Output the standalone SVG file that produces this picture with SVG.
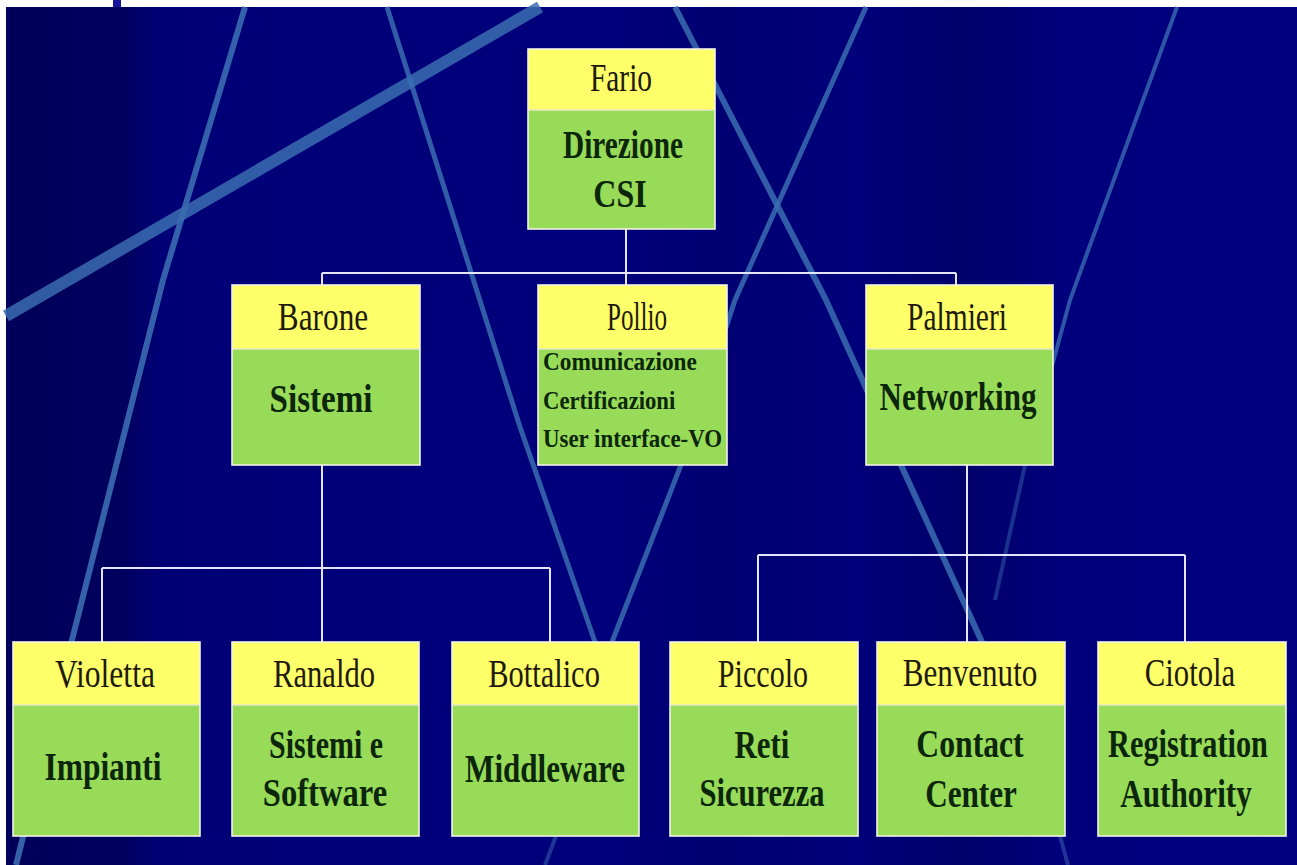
<svg xmlns="http://www.w3.org/2000/svg" width="1297" height="865" viewBox="0 0 1297 865">
<defs>
<linearGradient id="bg" x1="0" y1="0" x2="1" y2="0">
<stop offset="0" stop-color="#00005a"/>
<stop offset="0.09" stop-color="#00005e"/>
<stop offset="0.12" stop-color="#000076"/>
<stop offset="0.45" stop-color="#00007c"/>
<stop offset="0.55" stop-color="#000072"/>
<stop offset="0.66" stop-color="#00007a"/>
<stop offset="0.74" stop-color="#00006a"/>
<stop offset="0.82" stop-color="#00007c"/>
<stop offset="1" stop-color="#000080"/>
</linearGradient>
<style>
.deco{fill:none;stroke:#3a6cb0;stroke-linecap:butt}
.hd{fill:#ffff6a}
.bd{fill:#97db58}
.frame{fill:none;stroke:#f2f2e6;stroke-width:1.6}
.div{stroke:#e6e6c8;stroke-width:1.5}
.name{font-family:"Liberation Serif","Times New Roman",serif;font-size:40px;fill:#1e1a0c;text-anchor:middle}
.dept{font-family:"Liberation Serif","Times New Roman",serif;font-size:40px;font-weight:bold;fill:#0c260c;text-anchor:middle}
.small{font-family:"Liberation Serif","Times New Roman",serif;font-size:26px;font-weight:bold;fill:#0c260c}
.conn{fill:none;stroke:#e4e4ff;stroke-width:2}
</style>
</defs>
<rect x="0" y="0" width="1297" height="865" fill="#ffffff"/>
<rect x="6" y="7" width="1291" height="858" fill="url(#bg)"/>
<rect x="113" y="0" width="8" height="7" fill="#1414a0"/>
<g id="decor">
<path class="deco" d="M245 7 L163 280 L72 640 L16 865" stroke-width="6" opacity="0.9"/>
<path class="deco" d="M540 7 L6 316" stroke-width="12" opacity="0.85"/>
<path class="deco" d="M387 7 L520 427 L595 642" stroke-width="5" opacity="0.85"/>
<path class="deco" d="M866 7 L735 300 L681 465 L612 642" stroke-width="5" opacity="0.85"/>
<path class="deco" d="M556 836 L545 865" stroke-width="4" opacity="0.5"/>
<path class="deco" d="M675 7 L826 300 L901 465 L982 642" stroke-width="6" opacity="0.85"/>
<path class="deco" d="M1060 836 L1068 865" stroke-width="4" opacity="0.5"/>
<path class="deco" d="M1177 7 L1070 300 L1025 465" stroke-width="4" opacity="0.8"/>
<path class="deco" d="M1025 465 L995 600" stroke-width="4" opacity="0.45"/>
</g>
<g id="connectors">
<path class="conn" d="M626 229 V273 M322 273 H956 M322 273 V285 M626 273 V285 M956 273 V285"/>
<path class="conn" d="M322 465 V642 M102 568 H550 M102 568 V642 M550 568 V642"/>
<path class="conn" d="M967 465 V642 M758 555 H1185 M758 555 V642 M1185 555 V642"/>
</g>
<g id="fario">
<rect class="hd" x="528" y="49" width="187" height="61"/>
<rect class="bd" x="528" y="110" width="187" height="119"/>
<line class="div" x1="528" y1="110" x2="715" y2="110"/>
<rect class="frame" x="528" y="49" width="187" height="180"/>
<text class="name" transform="matrix(0.74 0 0 1 621 0)" x="0" y="91" textLength="84" lengthAdjust="spacingAndGlyphs">Fario</text>
<text class="dept" transform="matrix(0.74 0 0 1 623 0)" x="0" y="158" textLength="162" lengthAdjust="spacingAndGlyphs">Direzione</text>
<text class="dept" transform="matrix(0.74 0 0 1 620 0)" x="0" y="207" textLength="72" lengthAdjust="spacingAndGlyphs">CSI</text>
</g>
<g id="barone">
<rect class="hd" x="232" y="285" width="188" height="64"/>
<rect class="bd" x="232" y="349" width="188" height="116"/>
<line class="div" x1="232" y1="349" x2="420" y2="349"/>
<rect class="frame" x="232" y="285" width="188" height="180"/>
<text class="name" transform="matrix(0.74 0 0 1 323 0)" x="0" y="330" textLength="122" lengthAdjust="spacingAndGlyphs">Barone</text>
<text class="dept" transform="matrix(0.74 0 0 1 321 0)" x="0" y="412" textLength="139" lengthAdjust="spacingAndGlyphs">Sistemi</text>
</g>
<g id="pollio">
<rect class="hd" x="538" y="285" width="189" height="64"/>
<rect class="bd" x="538" y="349" width="189" height="116"/>
<line class="div" x1="538" y1="349" x2="727" y2="349"/>
<rect class="frame" x="538" y="285" width="189" height="180"/>
<text class="name" transform="matrix(0.74 0 0 1 637 0)" x="0" y="330" textLength="81" lengthAdjust="spacingAndGlyphs">Pollio</text>
<text class="small" transform="matrix(0.9 0 0 1 543 0)" x="0" y="370" textLength="171" lengthAdjust="spacingAndGlyphs">Comunicazione</text>
<text class="small" transform="matrix(0.9 0 0 1 543 0)" x="0" y="409" textLength="147" lengthAdjust="spacingAndGlyphs">Certificazioni</text>
<text class="small" transform="matrix(0.9 0 0 1 543 0)" x="0" y="447" textLength="199" lengthAdjust="spacingAndGlyphs">User interface-VO</text>
</g>
<g id="palmieri">
<rect class="hd" x="866" y="285" width="187" height="64"/>
<rect class="bd" x="866" y="349" width="187" height="116"/>
<line class="div" x1="866" y1="349" x2="1053" y2="349"/>
<rect class="frame" x="866" y="285" width="187" height="180"/>
<text class="name" transform="matrix(0.74 0 0 1 957 0)" x="0" y="330" textLength="135" lengthAdjust="spacingAndGlyphs">Palmieri</text>
<text class="dept" transform="matrix(0.74 0 0 1 958 0)" x="0" y="410" textLength="212" lengthAdjust="spacingAndGlyphs">Networking</text>
</g>
<g id="violetta">
<rect class="hd" x="13" y="642" width="187" height="63"/>
<rect class="bd" x="13" y="705" width="187" height="131"/>
<line class="div" x1="13" y1="705" x2="200" y2="705"/>
<rect class="frame" x="13" y="642" width="187" height="194"/>
<text class="name" transform="matrix(0.74 0 0 1 105 0)" x="0" y="687" textLength="135" lengthAdjust="spacingAndGlyphs">Violetta</text>
<text class="dept" transform="matrix(0.74 0 0 1 103 0)" x="0" y="780" textLength="158" lengthAdjust="spacingAndGlyphs">Impianti</text>
</g>
<g id="ranaldo">
<rect class="hd" x="232" y="642" width="187" height="63"/>
<rect class="bd" x="232" y="705" width="187" height="131"/>
<line class="div" x1="232" y1="705" x2="419" y2="705"/>
<rect class="frame" x="232" y="642" width="187" height="194"/>
<text class="name" transform="matrix(0.74 0 0 1 324 0)" x="0" y="687" textLength="138" lengthAdjust="spacingAndGlyphs">Ranaldo</text>
<text class="dept" transform="matrix(0.74 0 0 1 326 0)" x="0" y="758" textLength="154" lengthAdjust="spacingAndGlyphs">Sistemi e</text>
<text class="dept" transform="matrix(0.74 0 0 1 325 0)" x="0" y="806" textLength="168" lengthAdjust="spacingAndGlyphs">Software</text>
</g>
<g id="bottalico">
<rect class="hd" x="452" y="642" width="187" height="63"/>
<rect class="bd" x="452" y="705" width="187" height="131"/>
<line class="div" x1="452" y1="705" x2="639" y2="705"/>
<rect class="frame" x="452" y="642" width="187" height="194"/>
<text class="name" transform="matrix(0.74 0 0 1 544 0)" x="0" y="687" textLength="151" lengthAdjust="spacingAndGlyphs">Bottalico</text>
<text class="dept" transform="matrix(0.74 0 0 1 545 0)" x="0" y="782" textLength="216" lengthAdjust="spacingAndGlyphs">Middleware</text>
</g>
<g id="piccolo">
<rect class="hd" x="670" y="642" width="188" height="63"/>
<rect class="bd" x="670" y="705" width="188" height="131"/>
<line class="div" x1="670" y1="705" x2="858" y2="705"/>
<rect class="frame" x="670" y="642" width="188" height="194"/>
<text class="name" transform="matrix(0.74 0 0 1 763 0)" x="0" y="687" textLength="122" lengthAdjust="spacingAndGlyphs">Piccolo</text>
<text class="dept" transform="matrix(0.74 0 0 1 762 0)" x="0" y="758" textLength="74" lengthAdjust="spacingAndGlyphs">Reti</text>
<text class="dept" transform="matrix(0.74 0 0 1 762 0)" x="0" y="806" textLength="169" lengthAdjust="spacingAndGlyphs">Sicurezza</text>
</g>
<g id="benvenuto">
<rect class="hd" x="877" y="642" width="188" height="63"/>
<rect class="bd" x="877" y="705" width="188" height="131"/>
<line class="div" x1="877" y1="705" x2="1065" y2="705"/>
<rect class="frame" x="877" y="642" width="188" height="194"/>
<text class="name" transform="matrix(0.74 0 0 1 970 0)" x="0" y="686" textLength="182" lengthAdjust="spacingAndGlyphs">Benvenuto</text>
<text class="dept" transform="matrix(0.74 0 0 1 970 0)" x="0" y="757" textLength="145" lengthAdjust="spacingAndGlyphs">Contact</text>
<text class="dept" transform="matrix(0.74 0 0 1 971 0)" x="0" y="807" textLength="124" lengthAdjust="spacingAndGlyphs">Center</text>
</g>
<g id="ciotola">
<rect class="hd" x="1098" y="642" width="188" height="63"/>
<rect class="bd" x="1098" y="705" width="188" height="131"/>
<line class="div" x1="1098" y1="705" x2="1286" y2="705"/>
<rect class="frame" x="1098" y="642" width="188" height="194"/>
<text class="name" transform="matrix(0.74 0 0 1 1190 0)" x="0" y="686" textLength="122" lengthAdjust="spacingAndGlyphs">Ciotola</text>
<text class="dept" transform="matrix(0.74 0 0 1 1188 0)" x="0" y="757" textLength="216" lengthAdjust="spacingAndGlyphs">Registration</text>
<text class="dept" transform="matrix(0.74 0 0 1 1186 0)" x="0" y="807" textLength="178" lengthAdjust="spacingAndGlyphs">Authority</text>
</g>
</svg>
